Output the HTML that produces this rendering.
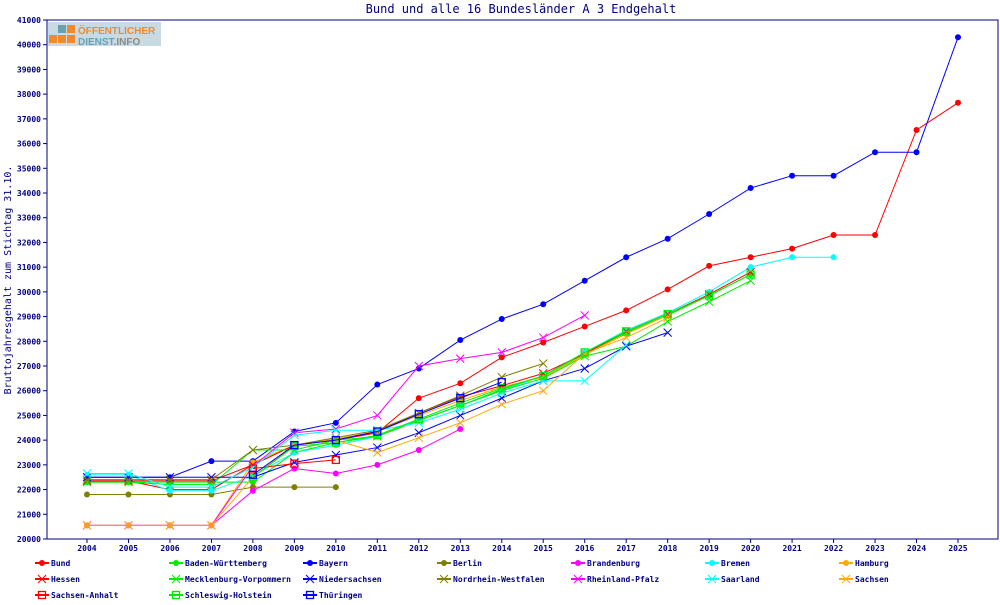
<!DOCTYPE html>
<html><head><meta charset="utf-8"><style>
body{margin:0;background:#fff;}
svg text{font-family:"DejaVu Sans Mono","Liberation Mono",monospace;fill:#000080;}
</style></head><body>
<svg id="chart" width="1000" height="600" xmlns="http://www.w3.org/2000/svg">
<rect x="0" y="0" width="1000" height="600" fill="#fff"/>
<text x="521" y="13" text-anchor="middle" font-size="12">Bund und alle 16 Bundesländer A 3 Endgehalt</text>
<g id="axes"></g><g id="series"></g><g id="legend"></g>
<g>
<rect x="48" y="22" width="113" height="24" fill="#c8dbe3"/>
<rect x="49" y="35" width="8" height="8" fill="#f08a30"/><rect x="58" y="35" width="8" height="8" fill="#f08a30"/><rect x="67" y="35" width="8" height="8" fill="#f08a30"/>
<rect x="58" y="25" width="8" height="8" fill="#6aa0b0"/><rect x="67" y="25" width="8" height="8" fill="#f08a30"/>
<text x="78" y="34" font-size="10" font-weight="bold" style="fill:#f08a30;font-family:'Liberation Sans',sans-serif">ÖFFENTLICHER</text>
<text x="78" y="45" font-size="10" font-weight="bold" style="fill:#6aa0b8;font-family:'Liberation Sans',sans-serif">DIENST<tspan style="fill:#8a8a8a">.INFO</tspan></text>
</g>
<text transform="translate(11,280) rotate(-90)" text-anchor="middle" font-size="10">Bruttojahresgehalt zum Stichtag 31.10.</text>
</svg>
<script>
const years=[2004,2005,2006,2007,2008,2009,2010,2011,2012,2013,2014,2015,2016,2017,2018,2019,2020,2021,2022,2023,2024,2025];
const yTicks=[20000,21000,22000,23000,24000,25000,26000,27000,28000,29000,30000,31000,32000,33000,34000,35000,36000,37000,38000,39000,40000,41000];
const seriesNames=["Bund","Baden-Württemberg","Bayern","Berlin","Brandenburg","Bremen","Hamburg","Hessen","Mecklenburg-Vorpommern","Niedersachsen","Nordrhein-Westfalen","Rheinland-Pfalz","Saarland","Sachsen","Sachsen-Anhalt","Schleswig-Holstein","Thüringen"];
const bund=[22350,22350,22000,22000,23000,23800,24000,24300,25700,26300,27350,27950,28600,29250,30100,31050,31400,31750,32300,32300,36550,37650];
const bw=[22300,22300,22300,22300,22300,23500,23900,24150,24800,25400,26050,26600,27500,28350,29050,29850,30700];
const bayern=[22500,22500,22500,23150,23150,24350,24700,26250,26900,28050,28900,29500,30450,31400,32150,33150,34200,34700,34700,35650,35650,40300];
const berlin=[21800,21800,21800,21800,22100,22100,22100];
const brandenburg=[20550,20550,20550,20550,21950,22850,22650,23000,23600,24450];
const bremen=[22600,22600,21950,21950,22550,23500,23800,24150,24800,25400,26000,26600,27550,28450,29150,30000,31000,31400,31400];
const hamburg=[20550,20550,20550,20550,23100,23800,24050,24350,25000,25600,26150,26550,27450,28300,29050];
const hessen=[22350,22350,22350,22350,23000,23800,24000,24350,25100,25750,26200,26700,27500,28400,29100,29900,30800];
const mv=[22300,22300,22200,22200,23600,23600,24000,24150,24800,25400,26000,26500,27400,27800,28800,29600,30450];
const nds=[22500,22500,22500,22500,22500,23100,23400,23700,24300,25000,25700,26400,26900,27800,28350];
const nrw=[22400,22400,22400,22400,23600,23800,24100,24400,25100,25800,26550,27100];
const rp=[20550,20550,20550,20550,22950,24300,24450,25000,27000,27300,27550,28150,29050];
const saarland=[22650,22650,22100,22100,22900,24200,24400,24400,24700,25250,25900,26400,26400,27850];
const sachsen=[20550,20550,20550,20550,22500,23800,24000,23500,24100,24700,25450,26000,27500,28150,28950];
const sachsenAnhalt=[null,null,null,null,22850,23050,23200];
const sh=[null,null,null,null,22500,23750,23900,24200,24850,25500,26100,26600,27550,28400,29100,29850,30700];
const thueringen=[null,null,null,null,22600,23800,24000,24350,25050,25700,26350];

const seriesData=[bund,bw,bayern,berlin,brandenburg,bremen,hamburg,hessen,mv,nds,nrw,rp,saarland,sachsen,sachsenAnhalt,sh,thueringen];
const colors=["#ff0000","#00ee00","#0000ff","#808000","#ff00ff","#00ffff","#ffaa00","#ff0000","#00ee00","#0000ff","#808000","#ff00ff","#00ffff","#ffaa00","#ff0000","#00ee00","#0000ff"];
const markers=["dot","dot","dot","dot","dot","dot","dot","x","x","x","x","x","x","x","sq","sq","sq"];

const NS="http://www.w3.org/2000/svg";
const X0=87,X1=958,YB=539,YT=20,VMIN=20000,VMAX=41000;
const xs=i=>X0+(X1-X0)*i/(years.length-1);
const ys=v=>YB-(YB-YT)*(v-VMIN)/(VMAX-VMIN);
function mk(tag,attrs,parent){const e=document.createElementNS(NS,tag);for(const k in attrs)e.setAttribute(k,attrs[k]);parent.appendChild(e);return e;}
const axes=document.getElementById('axes');
const frame=mk('path',{d:`M47 20 L998 20 L998 539 L47 539 Z`,fill:'none',stroke:'#000080','stroke-width':1},axes);


yTicks.forEach(t=>{
  const y=ys(t);
  mk('line',{x1:43,x2:47,y1:y,y2:y,stroke:'#000080'},axes);
  const tx=mk('text',{x:41,y:y+3,'text-anchor':'end','font-size':'8','font-weight':'bold'},axes);
  tx.textContent=t;
  
  
});
years.forEach((yr,i)=>{
  const x=xs(i);
  mk('line',{x1:x,x2:x,y1:539,y2:543,stroke:'#000080'},axes);
  const tx=mk('text',{x:x,y:551,'text-anchor':'middle','font-size':'8','font-weight':'bold'},axes);
  tx.textContent=yr;
  
  
});
function marker(type,x,y,c,g){
  if(type==='dot'){mk('circle',{cx:x,cy:y,r:3,fill:c},g);}
  else if(type==='x'){mk('path',{d:`M${x-4} ${y-4}L${x+4} ${y+4}M${x-4} ${y+4}L${x+4} ${y-4}`,stroke:c,'stroke-width':1,fill:'none'},g);}
  else{mk('rect',{x:x-3.5,y:y-3.5,width:7,height:7,fill:'none',stroke:c,'stroke-width':1.3},g);}
}
const sg=document.getElementById('series');
seriesData.forEach((arr,s)=>{
  const g=mk('g',{},sg);
  
  
  let d='';
  arr.forEach((v,i)=>{if(v==null)return;d+=(d?'L':'M')+xs(i)+' '+ys(v);});
  mk('path',{d:d,fill:'none',stroke:colors[s],'stroke-width':1},g);
  arr.forEach((v,i)=>{if(v!=null)marker(markers[s],xs(i),ys(v),colors[s],g);});
});
const lg=document.getElementById('legend');
seriesNames.forEach((n,s)=>{
  const col=s%7,row=Math.floor(s/7);
  const x=35+col*134,y=563+row*16;
  const g=mk('g',{},lg);
  
  
  mk('line',{x1:x,x2:x+14,y1:y,y2:y,stroke:colors[s],'stroke-width':2},g);
  marker(markers[s],x+7,y,colors[s],g);
  const t=mk('text',{x:x+16,y:y+3,'font-size':'8','font-weight':'bold'},g);
  t.textContent=n;
});
</script>
</body></html>
